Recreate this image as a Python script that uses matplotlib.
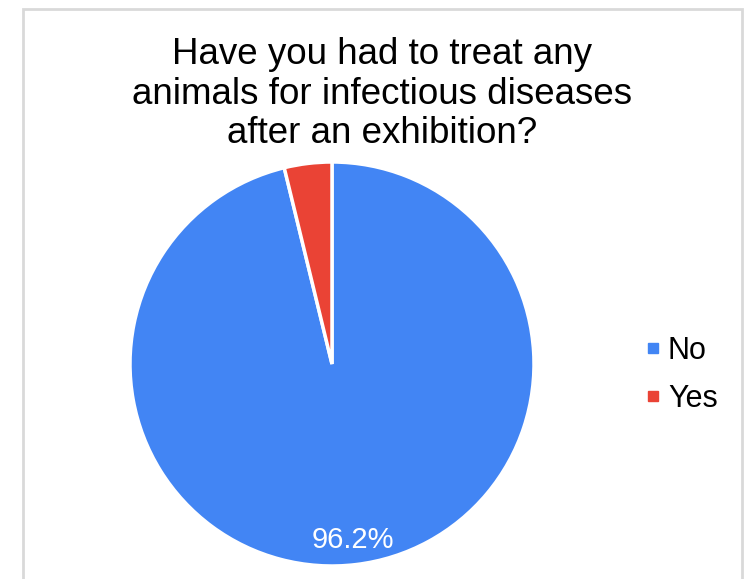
import matplotlib.pyplot as plt
from matplotlib.patches import Rectangle
from matplotlib.lines import Line2D

labels = ["No", "Yes"]
values = [96.2, 3.8]
colors = ["#4285F4", "#EA4335"]
title = "Have you had to treat any\nanimals for infectious diseases\nafter an exhibition?"

plt.rcParams['font.family'] = ['Liberation Sans', 'DejaVu Sans']

W, H = 754, 579
fig = plt.figure(figsize=(W / 100, H / 100), dpi=100)

# light grey frame around the chart (bottom runs off the image)
fig.patches.append(Rectangle((23 / W, -0.05), (742 - 23) / W, 1.05 - 9 / H,
                             transform=fig.transFigure, fill=False,
                             edgecolor="#d9d9d9", linewidth=2))

# pie centre ~ (332, 364), radius ~202 px
r = 202
ax = fig.add_axes([(332 - r) / W, 1 - (364 + r) / H, 2 * r / W, 2 * r / H])
wedges, texts, autotexts = ax.pie(
    values, colors=colors, startangle=90, counterclock=False,
    autopct=lambda p: f"{p:.1f}%" if p > 10 else "", pctdistance=0.88,
    wedgeprops=dict(edgecolor="white", linewidth=2.5))
for t in autotexts:
    t.set_color("white")
    t.set_fontsize(21)
ax.set_xlim(-1, 1)
ax.set_ylim(-1, 1)
ax.set_aspect("equal")

fig.text(382 / W, 1 - 94 / H, title, ha="center", va="center",
         fontsize=26.5, linespacing=1.15)

handles = [Line2D([], [], marker="s", linestyle="", color=c, markersize=7)
           for c in colors]
fig.legend(handles, labels, loc="center left", bbox_to_anchor=(616 / W, 1 - 375 / H),
           frameon=False, fontsize=22, handletextpad=0.2, labelspacing=0.6,
           handlelength=0.6)

fig.savefig("out.png", dpi=100)
